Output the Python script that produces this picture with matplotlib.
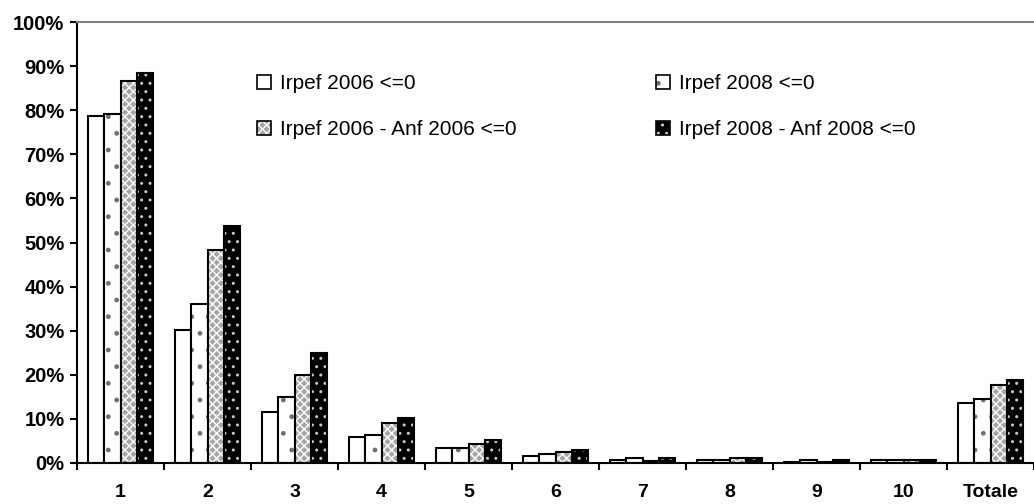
import matplotlib
matplotlib.use("Agg")
import matplotlib.pyplot as plt
import numpy as np

plt.rcParams['font.family'] = ['Liberation Sans', 'DejaVu Sans']
plt.rcParams['hatch.linewidth'] = 1.0

categories = ["1", "2", "3", "4", "5", "6", "7", "8", "9", "10", "Totale"]
irpef_2006 = [78.6, 30.1, 11.5, 5.8, 3.4, 1.6, 0.6, 0.6, 0.3, 0.6, 13.5]
irpef_2008 = [79.1, 36.0, 15.0, 6.3, 3.4, 2.0, 1.1, 0.6, 0.6, 0.6, 14.4]
irpef_anf_2006 = [86.7, 48.2, 20.0, 9.0, 4.3, 2.5, 0.5, 1.1, 0.3, 0.6, 17.6]
irpef_anf_2008 = [88.5, 53.7, 25.0, 10.3, 5.2, 2.9, 1.1, 1.1, 0.6, 0.6, 18.9]

series = [
    ("Irpef 2006 <=0", irpef_2006, "white", None, "white"),
    ("Irpef 2008 <=0", irpef_2008, "white", ".", "#707070"),
    ("Irpef 2006 - Anf 2006 <=0", irpef_anf_2006, "#a6a6a6", "xxxx", "white"),
    ("Irpef 2008 - Anf 2008 <=0", irpef_anf_2008, "black", "..", "#c8c8c8"),
]

fig = plt.figure(figsize=(10.34, 5.04), dpi=100)
ax = fig.add_axes([77 / 1034, 41 / 504, 957 / 1034, 441 / 504])

x = np.arange(len(categories))
width = 0.1875
handles = []
for i, (label, vals, fc, hatch, hc) in enumerate(series):
    pos = x + (i - 1.5) * width
    # fill + hatch first, then black outline on top
    ax.bar(pos, vals, width, color=fc, hatch=hatch, edgecolor=hc, linewidth=0)
    ax.bar(pos, vals, width, facecolor="none", edgecolor="black", linewidth=1.5)
    fill = plt.Rectangle((0, 0), 1, 1, facecolor=fc, hatch=hatch, edgecolor=hc, linewidth=0)
    edge = plt.Rectangle((0, 0), 1, 1, facecolor="none", edgecolor="black", linewidth=1.2)
    handles.append((fill, edge))

ax.set_xlim(-0.5, len(categories) - 0.5)
ax.set_ylim(0, 100)
ax.set_yticks(np.arange(0, 101, 10))
ax.set_yticklabels([f"{v}%" for v in range(0, 101, 10)], fontsize=14.5, fontweight="bold")
ax.set_xticks(x)
ax.set_xticklabels(categories, fontsize=14, fontweight="bold")
ax.set_xticks(np.arange(-0.5, len(categories), 1), minor=True)
ax.tick_params(axis="x", which="major", length=0, pad=15)
ax.tick_params(axis="x", which="minor", length=5, width=1.5, direction="out")
ax.tick_params(axis="y", length=5, width=1.5, direction="out", pad=4)

ax.spines["right"].set_visible(False)
ax.spines["top"].set_color("#808080")
ax.spines["top"].set_linewidth(1.5)
ax.spines["left"].set_linewidth(1.5)
ax.spines["bottom"].set_linewidth(1.5)

# two single-column legends placed where the original has them
leg_kw = dict(frameon=False, fontsize=15, loc="upper left", borderpad=0,
              borderaxespad=0, handlelength=0.65, handleheight=0.65,
              handletextpad=0.45, labelspacing=1.3)
fig.legend(handles=[handles[0], handles[2]], labels=[series[0][0], series[2][0]],
           bbox_to_anchor=(257 / 1034, 1 - 74 / 504), **leg_kw)
fig.legend(handles=[handles[1], handles[3]], labels=[series[1][0], series[3][0]],
           bbox_to_anchor=(656 / 1034, 1 - 74 / 504), **leg_kw)

fig.savefig("out.png", dpi=100)
